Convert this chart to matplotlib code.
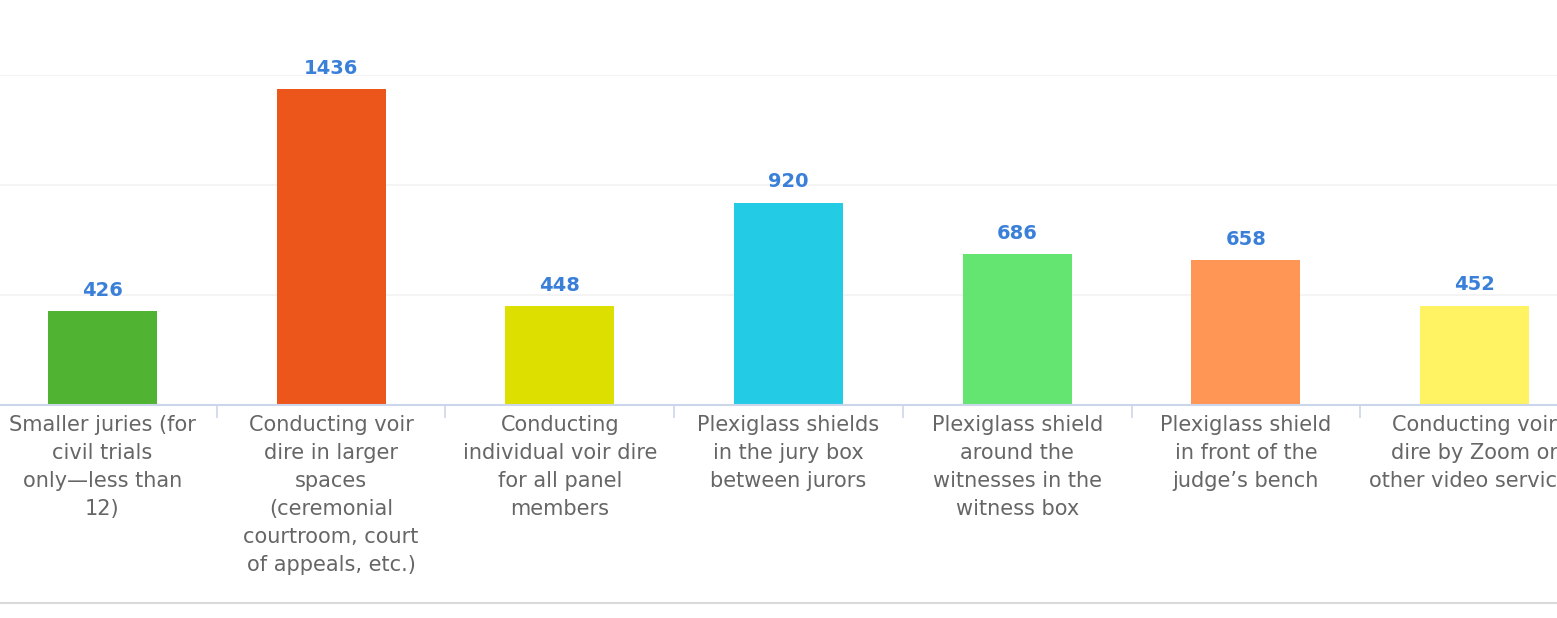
import numpy as np
import matplotlib
matplotlib.use("Agg")
import matplotlib.pyplot as plt
from matplotlib.lines import Line2D

# categories (wrapped the way the reference wraps them) and counts
categories = [
   "Smaller juries (for\ncivil trials\nonly\u2014less than\n12)",
   "Conducting voir\ndire in larger\nspaces\n(ceremonial\ncourtroom, court\nof appeals, etc.)",
   "Conducting\nindividual voir dire\nfor all panel\nmembers",
   "Plexiglass shields\nin the jury box\nbetween jurors",
   "Plexiglass shield\naround the\nwitnesses in the\nwitness box",
   "Plexiglass shield\nin front of the\njudge\u2019s bench",
   "Conducting voir\ndire by Zoom or\nother video services",
]
counts = [426, 1436, 448, 920, 686, 658, 452]
bar_colors = ["#50B432", "#ED561B", "#DDDF00", "#24CBE5",
              "#64E572", "#FF9655", "#FFF263"]
y_ticks = [0, 500, 1000, 1500]

fig = plt.figure(figsize=(15.57, 6.18), dpi=100)
ax = fig.add_axes([0.0, 213 / 618, 1.0, 330 / 618])

x = np.arange(len(categories))
ax.bar(x, counts, width=0.477, color=bar_colors, zorder=2)

for xi, v in zip(x, counts):
   ax.annotate(str(v), (xi, v), xytext=(0, 8), textcoords="offset points",
               ha="center", va="bottom", fontsize=14, fontweight="bold",
               color="#3a80d9")

# faint horizontal grid, no y labels
ax.set_yticks(y_ticks)
ax.yaxis.grid(True, color="#f2f2f2", linewidth=1.2, zorder=0)
ax.tick_params(axis="y", left=False, labelleft=False)

# category labels centred, tick marks at the boundaries
ax.set_xticks(x)
ax.set_xticklabels(categories, fontsize=15, color="#666666", linespacing=1.5)
ax.tick_params(axis="x", which="major", length=0, pad=7)
ax.set_xticks(np.arange(len(categories)) + 0.5, minor=True)
ax.tick_params(axis="x", which="minor", length=9, width=1.2, color="#ccd6eb",
               direction="out")

# limits last, setting ticks would widen them
ax.set_xlim(-0.4475, 6.36)
ax.set_ylim(0, 1500)

for side in ["top", "left", "right"]:
   ax.spines[side].set_visible(False)
ax.spines["bottom"].set_color("#ccd6eb")
ax.spines["bottom"].set_linewidth(1.5)

# thin grey line across the bottom of the figure
fig.add_artist(Line2D([0, 1], [15 / 618, 15 / 618], transform=fig.transFigure,
                      color="#d9d9d9", linewidth=1.5))

fig.savefig("out.png", dpi=100)
